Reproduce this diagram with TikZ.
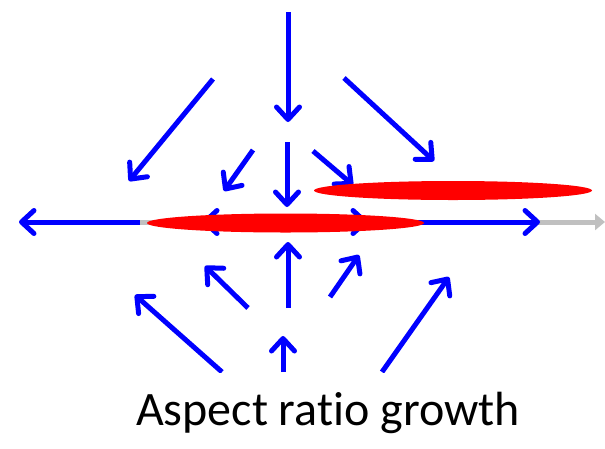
\documentclass[tikz,border=0pt]{standalone}
\usepackage{fontspec}
\setmainfont{Carlito}[Ligatures=NoCommon]
\usetikzlibrary{arrows.meta, shapes.geometric}
\definecolor{flowBlue}{HTML}{0000FF}
\definecolor{blobRed}{HTML}{FF0000}
\definecolor{axisGray}{HTML}{C0C0C0}

\begin{document}
\begin{tikzpicture}[
    x=1pt, y=-1pt,
    flow/.style={
        draw=flowBlue, line width=5pt,
        -{Straight Barb[length=12.5pt, width=23pt, round]}
    },
    axis/.style={
        draw=axisGray, line width=5pt,
        -{Triangle[length=10pt, width=16pt]}
    },
    blob/.style={
        ellipse, fill=blobRed, draw=none, inner sep=0pt
    },
    caption/.style={
        font=\fontsize{48}{52}\selectfont, text=black, inner sep=0pt
    },
]
\useasboundingbox (0,0) rectangle (605,448);

%% =================================================================
%% Gray axis (behind everything)
%% =================================================================
\coordinate (ax-s) at (140,222);
\coordinate (ax-e) at (605,222);
\draw[axis] (ax-s) -- (ax-e);

%% =================================================================
%% Blue flow arrows
%% =================================================================
\foreach \name/\sx/\sy/\ex/\ey in {
    top/288/12/288/122,  ul/213/79/129/181,   ur/344/78/434/161,
    iul/253/150/224/191, idn/287/142/287/207, iur/313/151/353/185,
    lft/140/222/19/222,  rgt/400/222/540/222,
    il/250/222/202/222,  ir/325/222/368/222,
    idl/248/308/205/266, iup/288/308/288/242, idr/330/297/359/255,
    odl/222/372/135/295, oup/283/372/283/336, odr/382/372/449/277} {
    \coordinate (\name-s) at (\sx,\sy);
    \coordinate (\name-e) at (\ex,\ey);
    \draw[flow] (\name-s) -- (\name-e);
}

%% =================================================================
%% Red ellipses (on top)
%% =================================================================
\node[blob, minimum width=277pt, minimum height=19pt] (lower) at (285.5,223) {};
\node[blob, minimum width=278pt, minimum height=19pt] (upper) at (453,190.5) {};

%% white strip hiding the arrow tails
\fill[white] (0,373) rectangle (605,448);

%% =================================================================
%% Caption
%% =================================================================
\node[caption, anchor=base] (cap) at (328,425) {Aspect ratio growth};

\end{tikzpicture}
\end{document}
